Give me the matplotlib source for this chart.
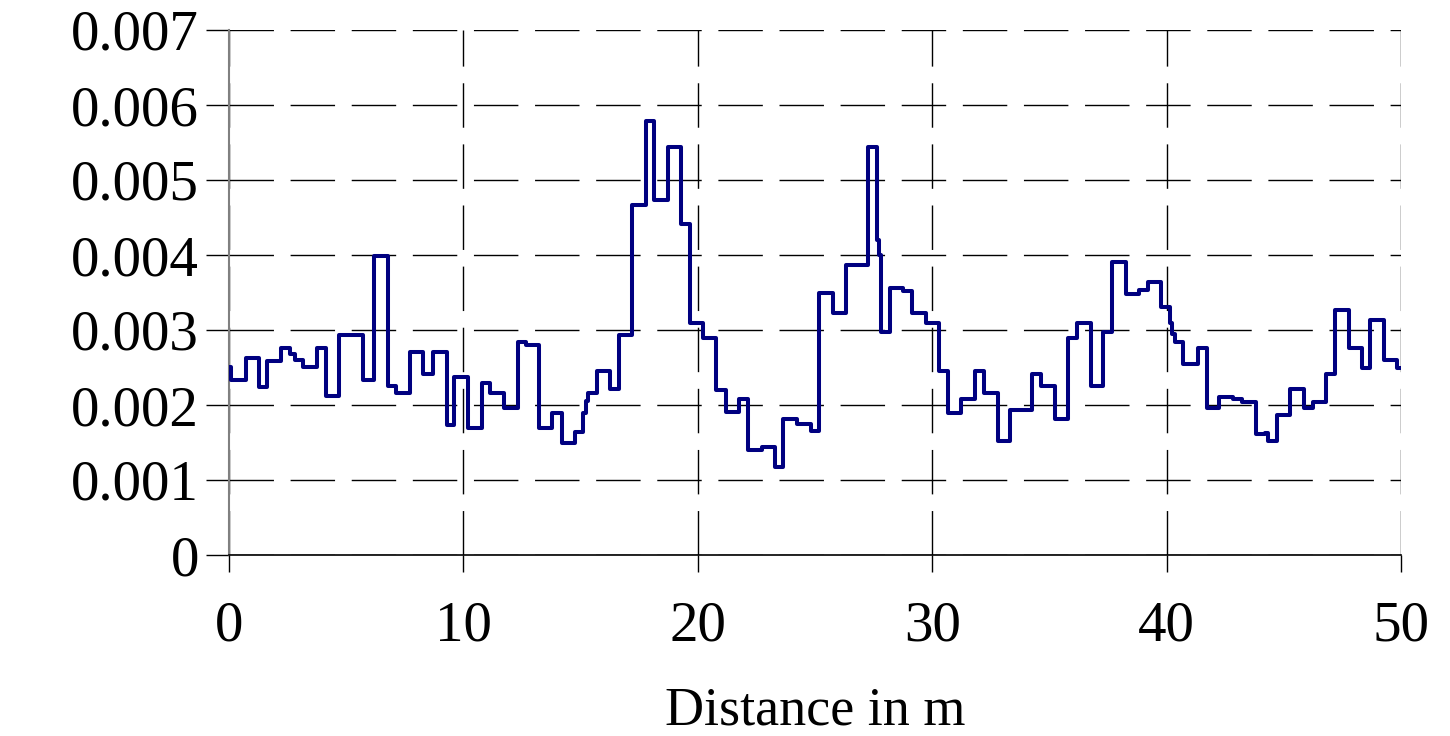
import numpy as np
import matplotlib
matplotlib.use('Agg')
import matplotlib.pyplot as plt

# step edges (distance in m) and level on each step (in units of 1e-3)
distancia = [0, 0.1, 0.71, 1.28, 1.64, 2.22, 2.6, 2.8, 3.17, 3.74, 4.12, 4.68, 5.70,
             6.19, 6.77, 7.12, 7.72, 8.26, 8.72, 9.29, 9.62, 10.21, 10.78, 11.13,
             11.73, 12.32, 12.67, 13.23, 13.79, 14.19, 14.76, 15.12, 15.25, 15.33,
             15.69, 16.25, 16.64, 17.21, 17.78, 18.13, 18.74, 19.28, 19.67, 20.24,
             20.78, 21.19, 21.77, 22.16, 22.73, 23.29, 23.65, 24.22, 24.82, 25.18,
             25.75, 26.31, 27.27, 27.66, 27.75, 27.81, 28.2, 28.77, 29.12, 29.72,
             30.27, 30.66, 31.21, 31.82, 32.2, 32.79, 33.32, 34.27, 34.63, 35.24,
             35.78, 36.16, 36.76, 37.30, 37.68, 38.25, 38.84, 39.19, 39.77, 40.15,
             40.25, 40.36, 40.71, 41.35, 41.71, 42.25, 42.82, 43.2, 43.80, 44.2,
             44.34, 44.72, 45.26, 45.86, 46.23, 46.79, 47.18, 47.78, 48.32, 48.68,
             49.27, 49.84]
nivel = [2.51, 2.33, 2.63, 2.24, 2.59, 2.76, 2.68, 2.60, 2.51, 2.76, 2.12, 2.93, 2.33,
         3.99, 2.26, 2.16, 2.71, 2.42, 2.71, 1.74, 2.38, 1.69, 2.29, 2.16,
         1.96, 2.84, 2.80, 1.69, 1.90, 1.49, 1.64, 1.90, 2.05, 2.16,
         2.46, 2.21, 2.93, 4.67, 5.78, 4.73, 5.44, 4.42, 3.10, 2.89,
         2.20, 1.91, 2.08, 1.40, 1.44, 1.18, 1.82, 1.75, 1.65, 3.49,
         3.23, 3.87, 5.44, 4.20, 4.00, 2.98, 3.56, 3.52, 3.23, 3.10,
         2.45, 1.90, 2.08, 2.45, 2.16, 1.52, 1.94, 2.41, 2.25, 1.82,
         2.89, 3.10, 2.25, 2.97, 3.91, 3.48, 3.54, 3.64, 3.31, 3.10,
         2.95, 2.84, 2.55, 2.76, 1.96, 2.11, 2.08, 2.04, 1.61, 1.63,
         1.52, 1.87, 2.21, 1.96, 2.04, 2.41, 3.27, 2.76, 2.50, 3.14,
         2.60, 2.50]
x_fim = 50

x_ticks = [0, 10, 20, 30, 40, 50]
y_ticks = [0, 0.001, 0.002, 0.003, 0.004, 0.005, 0.006, 0.007]
y_labels = ['0', '0.001', '0.002', '0.003', '0.004', '0.005', '0.006', '0.007']

plt.rcParams['font.family'] = ['Liberation Serif', 'DejaVu Serif']

x = np.array(distancia + [x_fim])
y = np.array(nivel + [nivel[-1]]) * 1e-3

fig = plt.figure(figsize=(14.5, 7.36), dpi=100)
ax = fig.add_axes([229/1450, 1 - 555/736, 1172/1450, 525/736])

ax.plot(x, y, drawstyle='steps-post', color='#000080', lw=2.9, zorder=3)

ax.set_xlim(0, 50)
ax.set_ylim(0, 0.007)
ax.set_xticks(x_ticks)
ax.set_yticks(y_ticks)
ax.set_yticklabels(y_labels)

dash = (0, (32, 12))
ax.grid(True, color='black', lw=1.0, linestyle=dash)
ax.set_axisbelow(True)

for lado in ['top', 'right']:
    ax.spines[lado].set_visible(False)
ax.spines['left'].set_color('#808080')
ax.spines['left'].set_linewidth(1.5)
ax.spines['bottom'].set_color('black')
ax.spines['bottom'].set_linewidth(1.2)

ax.tick_params(axis='y', direction='out', length=16.5, width=1.0, color='black',
               pad=5, labelsize=41)
ax.tick_params(axis='x', direction='out', length=12, width=1.0, color='black',
               pad=21, labelsize=41)

ax.set_xlabel('Distance in m', fontsize=39, labelpad=24)

plt.savefig('out.png', dpi=100)
